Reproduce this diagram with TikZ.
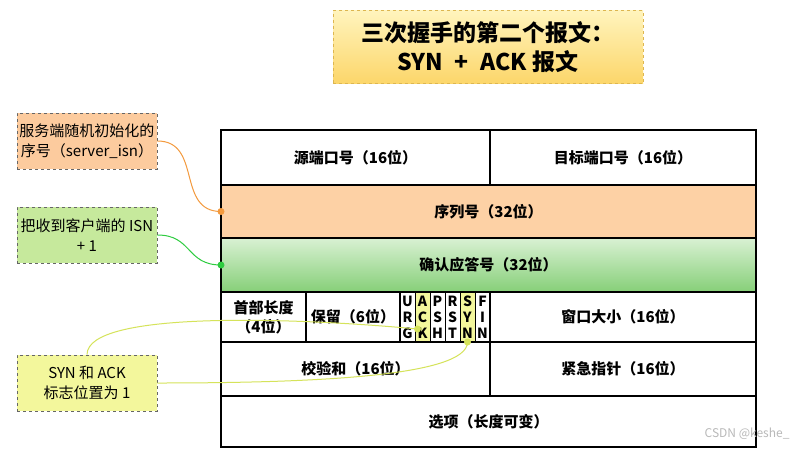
\documentclass[tikz,border=0pt]{standalone}
\usepackage{fontspec}
\setmainfont{Noto Sans CJK SC}
\usetikzlibrary{positioning}
\definecolor{peach}{HTML}{FDD1A5}
\definecolor{notepeach}{HTML}{FCCB9E}
\definecolor{greentop}{HTML}{D9F1D3}
\definecolor{greenbot}{HTML}{86CF78}
\definecolor{notegreen}{HTML}{C6E99C}
\definecolor{noteyellow}{HTML}{F3F79C}
\definecolor{titletop}{HTML}{FFF4BD}
\definecolor{titlebot}{HTML}{FCD66A}
\definecolor{titlestroke}{HTML}{DDB650}
\definecolor{notestroke}{HTML}{666666}
\definecolor{linkorange}{HTML}{F39A3E}
\definecolor{linkgreen}{HTML}{2ECC40}
\definecolor{linkyellow}{HTML}{D5E35A}

\begin{document}
\begin{tikzpicture}[
    x=1pt, y=-1pt,
    cell/.style={draw, line width=1.5pt, anchor=north west, inner sep=0pt, outer sep=0pt, align=center, font=\fontsize{15}{19}\selectfont\bfseries},
    flag/.style={cell, line width=1pt, minimum width=15pt, text width=15pt, minimum height=50pt, font=\fontsize{14}{16}\selectfont\bfseries},
    note/.style={draw=notestroke, dashed, line width=0.8pt, minimum width=140pt, minimum height=56pt, inner sep=2pt, align=center, font=\fontsize{15}{20}\selectfont},
    headline/.style={draw=titlestroke, dashed, line width=0.9pt, top color=titletop, bottom color=titlebot, minimum width=310pt, minimum height=73pt, align=center, font=\fontsize{23}{29}\selectfont\bfseries},
    link/.style={line width=1pt},
    dot/.style={circle, inner sep=0pt, minimum size=7pt}
]
\path[fill=white, use as bounding box] (0,0) rectangle (798,448);

% title
\node[headline] (title) at (488,47) {三次握手的第二个报文：\\SYN\enspace+\enspace ACK 报文};

% header rows
\node[cell, minimum width=269pt, minimum height=55pt] (src) at (221,130) {源端口号（16位）};
\node[cell, minimum width=266pt, minimum height=55pt] (dst) at (490,130) {目标端口号（16位）};
\node[cell, fill=peach, minimum width=535pt, minimum height=53pt] (seq) at (221,185) {序列号（32位）};
\node[cell, top color=greentop, bottom color=greenbot, minimum width=535pt, minimum height=54pt] (ackno) at (221,238) {确认应答号（32位）};

% length, reserved, flags, window
\node[cell, minimum width=85pt, minimum height=50pt] (hlen) at (221,292) {首部长度\\（4位）};
\node[cell, minimum width=94pt, minimum height=50pt] (rsv) at (306,292) {保留（6位）};
\node[flag] (urgf) at (400,292) {U\\R\\G};
\node[flag, fill=noteyellow] (ackf) at (415,292) {A\\C\\K};
\node[flag] (pshf) at (430,292) {P\\S\\H};
\node[flag] (rstf) at (445,292) {R\\S\\T};
\node[flag, fill=noteyellow] (synf) at (460,292) {S\\Y\\N};
\node[flag] (finf) at (475,292) {F\\I\\N};
\node[cell, minimum width=266pt, minimum height=50pt] (win) at (490,292) {窗口大小（16位）};

% checksum, urgent pointer, options
\node[cell, minimum width=269pt, minimum height=54pt] (chk) at (221,342) {校验和（16位）};
\node[cell, minimum width=266pt, minimum height=54pt] (urgp) at (490,342) {紧急指针（16位）};
\node[cell, minimum width=535pt, minimum height=51pt] (opts) at (221,396) {选项（长度可变）};

% notes
\node[note, fill=notepeach] (isnnote) at (87,141) {服务端随机初始化的\\序号（server\_isn）};
\node[note, fill=notegreen] (plusnote) at (87,235) {把收到客户端的 ISN\\+ 1};
\node[note, fill=noteyellow] (flagnote) at (87,383) {SYN 和 ACK\\标志位置为 1};

% links
\draw[link, linkorange] (isnnote.east) .. controls +(45,0) and +(-45,0) .. (seq.west);
\node[dot, fill=linkorange] (seqdot) at (seq.west) {};
\draw[link, linkgreen] (plusnote.east) .. controls +(35,0) and +(-35,0) .. (ackno.west);
\node[dot, fill=linkgreen] (acknodot) at (ackno.west) {};

\coordinate (ackpt) at ([xshift=-5pt, yshift=-12pt]ackf.center);
\coordinate (synpt) at (synf.south);
\draw[link, linkyellow] (flagnote.north) .. controls +(0,-45) and +(-117,-11) .. (ackpt);
\draw[link, linkyellow] (flagnote.east) .. controls +(150,0) and +(0,35) .. (synpt);
\node[dot, fill=linkyellow] (ackdot) at (ackpt) {};
\node[dot, fill=linkyellow] (syndot) at (synpt) {};

% watermark
\node[anchor=east, text=gray!55, font=\fontsize{12}{14}\selectfont] (mark) at (793,434) {CSDN @keshe\_};
\end{tikzpicture}
\end{document}
